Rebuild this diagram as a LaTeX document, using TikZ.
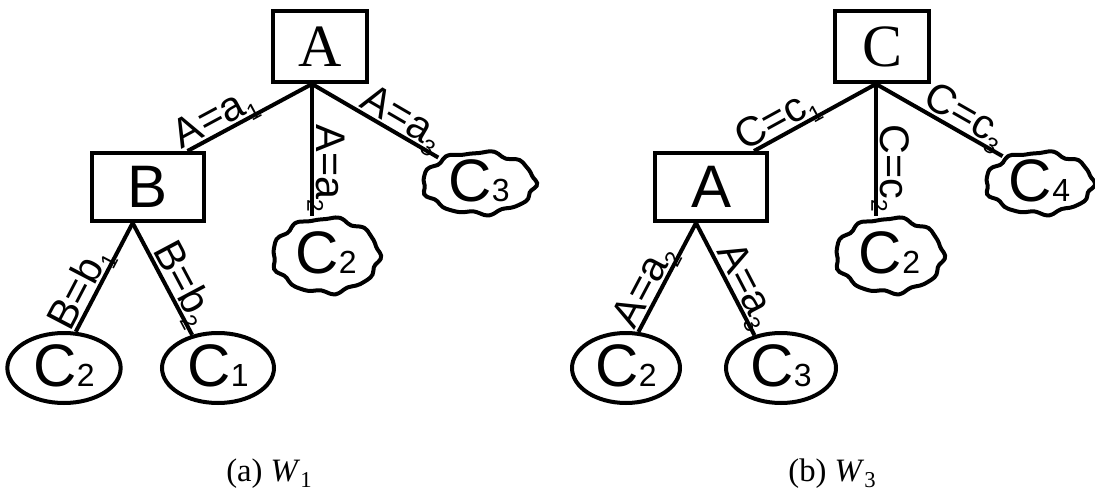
\documentclass[tikz,border=0pt]{standalone}
\usepackage{fontspec}
\setmainfont{Liberation Serif}
\newfontfamily\hvfont{Liberation Sans}
\usetikzlibrary{shapes.geometric}

% edge test label: value with a subscript that does not add depth
\newcommand\edgelbl[2]{{\hvfont\fontsize{31}{31}\selectfont #1\raisebox{-0.22em}[0pt][0pt]{\fontsize{17}{17}\selectfont #2}}}
% class label of a leaf
\newcommand\leaftext[1]{\raisebox{4pt}{\hvfont\fontsize{45}{45}\selectfont C{\fontsize{24}{24}\selectfont #1}}}
% bumpy closed outline around a leaf node: node name, x radius, y radius
\newcommand\bumpyoutline[3]{%
  \draw[shift={(#1.center)}] plot[smooth cycle,domain=0:355,samples=72,variable=\t]
    ({(#2+1.6*cos(9*\t)+0.8*sin(14*\t+40))*cos(\t)},
     {(#3+1.6*cos(9*\t)+0.8*sin(14*\t+40))*sin(\t)});}

\begin{document}
\begin{tikzpicture}[x=0.75pt,y=-0.75pt,line width=3pt,
  rootbox/.style={draw,rectangle,minimum width=70.5pt,minimum height=53.25pt,inner sep=0pt,
    font=\fontsize{45}{45}\selectfont},
  innerbox/.style={draw,rectangle,minimum width=84pt,minimum height=51pt,inner sep=0pt,
    font=\hvfont\fontsize{45}{45}\selectfont},
  leaf/.style={draw,ellipse,inner sep=0pt},
  bumpyleaf/.style={ellipse,inner sep=0pt},
  edgelabel/.style={sloped,above,inner sep=1.5pt},
  caption/.style={anchor=base,font=\fontsize{24.5}{24.5}\selectfont}]

\useasboundingbox (0,0) rectangle (1095,492);

% ---------------- tree W1 ----------------
\node[rootbox] (rA) at (320,46.5) {A};
\node[innerbox] (nB) at (148,187) {B};
\node[bumpyleaf,minimum width=81pt,minimum height=56pt] (lC2m) at (326,255.5) {\leaftext{2}};
\node[bumpyleaf,minimum width=85pt,minimum height=46.5pt] (lC3) at (479,183) {\leaftext{3}};
\node[leaf,minimum width=85pt,minimum height=52.5pt] (lC2b) at (64,368) {\leaftext{2}};
\node[leaf,minimum width=84pt,minimum height=52.5pt] (lC1) at (218,368) {\leaftext{1}};
\bumpyoutline{lC2m}{53}{37}
\bumpyoutline{lC3}{56}{30.5}

\coordinate (jA) at ([xshift=-6pt]rA.south);
\coordinate (jB) at ([xshift=-11.5pt]nB.south);
\coordinate (tB) at ([xshift=-13.9pt]nB.north east);

\draw (jA) -- node[edgelabel,pos=0.72] {\edgelbl{A=a}{1}} (tB);
\draw (jA) -- node[edgelabel,pos=0.64] {\edgelbl{A=a}{2}} (jA |- lC2m.north);
\draw (jA) -- node[edgelabel,pos=0.65] {\edgelbl{A=a}{3}} (lC3.148);
\draw (jB) -- node[edgelabel,pos=0.67] {\edgelbl{B=b}{1}} (lC2b.72);
\draw (jB) -- node[edgelabel,pos=0.61] {\edgelbl{B=b}{2}} (lC1.128);

\node[caption] (capa) at (269,481) {(a) \textit{W}\raisebox{-0.2em}{\fontsize{17}{17}\selectfont 1}};

% ---------------- tree W3 ----------------
\node[rootbox] (rC) at (882,46.5) {C};
\node[innerbox] (nA) at (711,187) {A};
\node[bumpyleaf,minimum width=82pt,minimum height=56pt] (rC2m) at (889.5,255.5) {\leaftext{2}};
\node[bumpyleaf,minimum width=82pt,minimum height=46.5pt] (rC4) at (1039.5,183) {\leaftext{4}};
\node[leaf,minimum width=81pt,minimum height=52.5pt] (rC2b) at (626,368) {\leaftext{2}};
\node[leaf,minimum width=82.5pt,minimum height=52.5pt] (rC3) at (781,368) {\leaftext{3}};
\bumpyoutline{rC2m}{53.5}{37}
\bumpyoutline{rC4}{53.5}{30.5}

\coordinate (jC) at ([xshift=-4.5pt]rC.south);
\coordinate (jA2) at ([xshift=-11.25pt]nA.south);
\coordinate (tA) at ([xshift=-11.25pt]nA.north east);

\draw (jC) -- node[edgelabel,pos=0.75] {\edgelbl{C=c}{1}} (tA);
\draw (jC) -- node[edgelabel,pos=0.64] {\edgelbl{C=c}{2}} (jC |- rC2m.north);
\draw (jC) -- node[edgelabel,pos=0.64] {\edgelbl{C=c}{3}} (rC4.144);
\draw (jA2) -- node[edgelabel,pos=0.65] {\edgelbl{A=a}{2}} (rC2b.71);
\draw (jA2) -- node[edgelabel,pos=0.62] {\edgelbl{A=a}{3}} (rC3.129);

\node[caption] (capb) at (832,481) {(b) \textit{W}\raisebox{-0.2em}{\fontsize{17}{17}\selectfont 3}};
\end{tikzpicture}
\end{document}
